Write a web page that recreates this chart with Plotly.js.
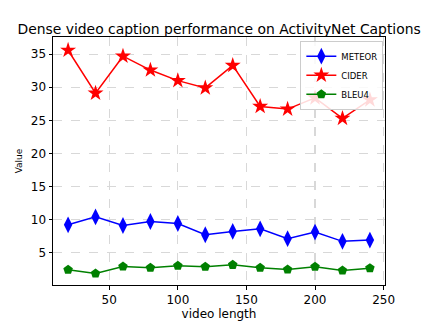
<!DOCTYPE html>
<html><head><meta charset="utf-8">
<script src="https://cdn.plot.ly/plotly-3.0.1.min.js"></script>
<style>body{margin:0;background:#fff}#c{width:428px;height:321px}</style>
</head><body><div id="c"></div>
<script>
const lengths = [20,40,60,80,100,120,140,160,180,200,220,240];
const meteor = [9.2,10.4,9.1,9.7,9.4,7.7,8.2,8.6,7.1,8.1,6.7,6.9];
const cider = [35.6,29.1,34.7,32.6,31.0,29.9,33.3,27.1,26.7,28.4,25.3,28.1];
const bleu4 = [2.4,1.85,2.9,2.7,3.0,2.85,3.15,2.7,2.45,2.85,2.3,2.65];
const xTicks = [50,100,150,200,250];
const yTicks = [5,10,15,20,25,30,35];

function tr(name, y, color, sym, size){
  return {x: lengths, y: y, name: name, type:'scatter', mode:'lines+markers',
    line:{color:color, width:1.5}, marker:{symbol:sym, size:size, color:color}};
}
const data = [
  tr('METEOR', meteor, 'blue', 'diamond-tall', 12),
  tr('CIDER', cider, 'red', 'star', 12),
  tr('BLEU4', bleu4, 'green', 'pentagon', 10)
];
const font = 'DejaVu Sans, sans-serif';
const layout = {
  width:428, height:321,
  margin:{l:53, r:43, t:37, b:36},
  paper_bgcolor:'#fff', plot_bgcolor:'#fff',
  font:{family:font, color:'#000'},
  title:{text:'Dense video caption performance on ActivityNet Captions', font:{size:13.9, family:font}, x:0.512, xanchor:'center', y:0.91, yanchor:'middle'},
  xaxis:{range:[9,251], tickvals:xTicks, ticks:'outside', ticklen:3.5, tickcolor:'#000',
    showline:true, mirror:true, linecolor:'#000', linewidth:1,
    showgrid:true, gridcolor:'#d8d8d8', griddash:'dash', gridwidth:1.2, zeroline:false,
    tickfont:{size:12}, title:{text:'video length', font:{size:12}, standoff:2}},
  yaxis:{range:[0.1,37.6], tickvals:yTicks, ticks:'outside', ticklen:3.5, tickcolor:'#000',
    showline:true, mirror:true, linecolor:'#000', linewidth:1,
    showgrid:true, gridcolor:'#d8d8d8', griddash:'dash', gridwidth:1.2, zeroline:false,
    tickfont:{size:12}, title:{text:'Value', font:{size:9}, standoff:6}},
  legend:{x:0.995, y:0.985, xanchor:'right', yanchor:'top', bgcolor:'rgba(255,255,255,0.85)',
    bordercolor:'#ccc', borderwidth:1, font:{size:8.5, family:font}, itemwidth:30, tracegroupgap:0},
  showlegend:true
};
Plotly.newPlot('c', data, layout, {displayModeBar:false, staticPlot:true});
</script></body></html>
